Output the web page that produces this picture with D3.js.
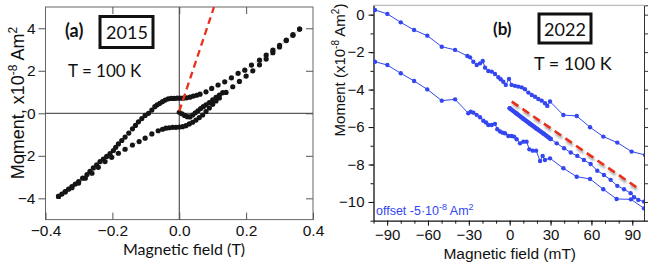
<!DOCTYPE html>
<html>
<head>
<meta charset="utf-8">
<style>
  body { margin: 0; background: #fff; }
  svg text { font-family: "Liberation Sans", Arial, sans-serif; fill: #111; }
  .note { font-family: Lato, "Open Sans", sans-serif; }
</style>
</head>
<body>
<script src="https://cdnjs.cloudflare.com/ajax/libs/d3/7.8.5/d3.min.js"></script>
<script>
// ---------- panel (a), 2015 : field in T, moment in 1e-8 Am2
var aDownH = [0.36, 0.34, 0.32, 0.30, 0.28, 0.26, 0.24, 0.216, 0.196, 0.176, 0.156, 0.136, 0.116, 0.097, 0.08, 0.062, 0.052, 0.042, 0.032, 0.022, 0.012, 0.003, -0.006, -0.015, -0.024, -0.033, -0.042, -0.05, -0.058, -0.066, -0.073, -0.082, -0.092, -0.102, -0.112, -0.122, -0.131, -0.14, -0.151, -0.162, -0.172, -0.182, -0.19, -0.197, -0.207, -0.217, -0.227, -0.237, -0.247, -0.257, -0.267, -0.276, -0.289, -0.301, -0.311, -0.321, -0.331, -0.341, -0.351, -0.361];
var aDownM = [3.96, 3.67, 3.44, 3.2, 2.97, 2.74, 2.5, 2.27, 2.03, 1.88, 1.67, 1.48, 1.33, 1.17, 1.01, 0.9, 0.85, 0.81, 0.76, 0.73, 0.71, 0.71, 0.71, 0.7, 0.7, 0.68, 0.62, 0.55, 0.47, 0.4, 0.31, 0.15, 0.0, -0.1, -0.25, -0.4, -0.57, -0.73, -0.93, -1.12, -1.28, -1.44, -1.6, -1.75, -1.9, -2.03, -2.15, -2.27, -2.42, -2.57, -2.73, -2.88, -3.05, -3.21, -3.33, -3.45, -3.57, -3.68, -3.8, -3.91];
var aUpH = [-0.361, -0.341, -0.321, -0.301, -0.281, -0.261, -0.242, -0.222, -0.202, -0.182, -0.162, -0.14, -0.12, -0.102, -0.082, -0.063, -0.05, -0.04, -0.03, -0.02, -0.01, 0.0, 0.01, 0.02, 0.03, 0.04, 0.05, 0.06, 0.07, 0.08, 0.09, 0.1, 0.11, 0.12, 0.14, 0.16, 0.18, 0.2, 0.22, 0.24, 0.26, 0.28, 0.3, 0.32, 0.34, 0.36];
var aUpM = [-3.91, -3.7, -3.5, -3.28, -3.05, -2.82, -2.54, -2.27, -2.07, -1.88, -1.69, -1.49, -1.33, -1.17, -0.97, -0.82, -0.75, -0.7, -0.68, -0.66, -0.66, -0.65, -0.63, -0.58, -0.5, -0.42, -0.32, -0.2, -0.08, 0.08, 0.25, 0.42, 0.58, 0.72, 0.98, 1.25, 1.5, 1.75, 2.0, 2.28, 2.55, 2.85, 3.12, 3.42, 3.7, 3.96];
var aVirgH = [0.0, 0.008, 0.016, 0.024, 0.032, 0.04, 0.048, 0.056, 0.064, 0.072, 0.08, 0.09, 0.1, 0.11, 0.12, 0.13];
var aVirgM = [0.05, -0.02, -0.1, -0.16, -0.17, -0.08, 0.02, 0.12, 0.22, 0.31, 0.4, 0.5, 0.63, 0.75, 0.86, 0.97];
var aFitH = [0.0, 0.104];
var aFitM = [0.1, 5.0];
var aXTicks = [-0.4, -0.2, 0.0, 0.2, 0.4];
var aYTicks = [-4, -2, 0, 2, 4];

// ---------- panel (b), 2022 : field in mT, moment in 1e-8 Am2
var bUpH = [-98.9, -89.8, -80, -70.2, -60.5, -49.9, -40.1, -31.1, -29.1, -26.7, -24.2, -21.8, -19.8, -18.1, -15.7, -13.2, -10.8, -8.3, -6.6, -4.7, -2.9, -0.5, 1.4, 3.9, 6.3, 8.8, 11.2, 13.7, 16.2, 18.6, 21, 23.5, 25.9, 27.6, 29.6, 39.4, 49.2, 59, 68.7, 79, 89.5, 99.4];
var bUpM = [0.25, 0.04, -0.41, -0.82, -1.12, -1.71, -1.88, -2.21, -2.28, -2.51, -2.69, -2.6, -2.47, -2.83, -3.01, -3.04, -3.17, -3.34, -3.45, -3.58, -3.75, -3.43, -3.75, -3.8, -3.84, -3.88, -3.98, -4.16, -4.29, -4.38, -4.5, -4.59, -4.73, -4.87, -4.64, -5.36, -5.41, -6.01, -6.51, -6.83, -7.31, -7.49];
var bLoH = [-98.9, -89.8, -80, -70.2, -60.5, -49.9, -40.1, -30.4, -28.6, -26.7, -24.3, -21.8, -19.4, -17.4, -15.7, -13.2, -10.8, -9.1, -7.1, -5.2, -3.5, -1, 1.4, 3.2, 5.1, 7.6, 10, 12.4, 14.4, 16.9, 19.4, 22.3, 24.2, 25.9, 29.6, 39.4, 49.2, 59, 68.7, 78.5, 89, 98.6];
var bLoM = [-2.51, -2.69, -3.13, -3.54, -3.99, -4.59, -4.52, -5.26, -5.18, -5.23, -5.35, -5.48, -5.66, -5.76, -5.89, -5.89, -5.83, -6.12, -6.24, -6.3, -6.33, -6.48, -6.48, -6.51, -6.65, -6.87, -6.78, -6.78, -7.19, -7.26, -7.26, -7.81, -7.54, -7.76, -7.67, -8.2, -8.65, -8.77, -9.32, -9.84, -9.86, -10.34];
// offset curve: dense part 0-30 mT, then sparse points
var bOffH = [0, 5, 10, 15, 20, 25, 30, 34.5, 39.9, 44.8, 49.6, 54.5, 59.4, 64.3, 69.2, 74.1, 79, 83.9, 88.8, 91.3, 94.4, 98.6];
var bOffM = [-5.0, -5.28, -5.56, -5.83, -6.1, -6.36, -6.63, -6.87, -7.13, -7.36, -7.54, -7.76, -7.97, -8.33, -8.56, -8.82, -9.14, -9.32, -9.53, -9.75, -9.89, -9.98];
var bThickEnd = 30;
var bFitH = [1.5, 95.2];
var bFitM = [-4.64, -9.32];
var bXTicks = [-90, -60, -30, 0, 30, 60, 90];
var bYTicks = [-10, -8, -6, -4, -2, 0];

var W = 654, H = 265;
var svg = d3.select("body").append("svg").attr("width", W).attr("height", H);
var defs = svg.append("defs");
defs.append("filter").attr("id", "blur").append("feGaussianBlur").attr("stdDeviation", 1.2);

function pts(hs, ms) { return hs.map(function (h, i) { return [h, ms[i]]; }); }

// ================= panel (a)
var xa = d3.scaleLinear().domain([-0.4, 0.4]).range([45.5, 313]);
var ya = d3.scaleLinear().domain([-5, 5]).range([219.6, 7]);
var ga = svg.append("g");
ga.append("clipPath").attr("id", "clipA").append("rect")
  .attr("x", xa(-0.4)).attr("y", ya(5)).attr("width", xa(0.4) - xa(-0.4)).attr("height", ya(-5) - ya(5));

// frame
ga.append("rect").attr("x", xa(-0.4)).attr("y", ya(5))
  .attr("width", xa(0.4) - xa(-0.4)).attr("height", ya(-5) - ya(5))
  .attr("fill", "none").attr("stroke", "#666").attr("stroke-width", 1);
// zero lines
ga.append("line").attr("x1", xa(0)).attr("x2", xa(0)).attr("y1", ya(5)).attr("y2", ya(-5)).attr("stroke", "#333");
ga.append("line").attr("x1", xa(-0.4)).attr("x2", xa(0.4)).attr("y1", ya(0)).attr("y2", ya(0)).attr("stroke", "#333");

// axes
ga.append("g").attr("transform", "translate(0," + ya(-5) + ")")
  .call(d3.axisBottom(xa).tickValues(aXTicks).tickFormat(d3.format(".1f")).tickSize(-7).tickPadding(5))
  .call(function (g) { g.select(".domain").remove(); g.selectAll("line").attr("stroke", "#555"); g.selectAll("text").attr("font-size", 15.5); });
ga.append("g").attr("transform", "translate(0," + ya(5) + ")")
  .call(d3.axisTop(xa).tickValues([-0.2, 0, 0.2]).tickSize(-7).tickFormat(""))
  .call(function (g) { g.select(".domain").remove(); g.selectAll("line").attr("stroke", "#555"); });
ga.append("g").attr("transform", "translate(" + xa(-0.4) + ",0)")
  .call(d3.axisLeft(ya).tickValues(aYTicks).tickSize(7).tickPadding(3).tickFormat(d3.format("d")))
  .call(function (g) { g.select(".domain").remove(); g.selectAll("line").attr("stroke", "#555"); g.selectAll("text").attr("font-size", 15.5); });
ga.append("g").attr("transform", "translate(" + xa(0.4) + ",0)")
  .call(d3.axisRight(ya).tickValues(aYTicks).tickSize(-7).tickFormat(""))
  .call(function (g) { g.select(".domain").remove(); g.selectAll("line").attr("stroke", "#555"); });

// data
var lineA = d3.line().x(function (d) { return xa(d[0]); }).y(function (d) { return ya(d[1]); });
var aSets = [pts(aDownH, aDownM), pts(aUpH, aUpM), pts(aVirgH, aVirgM)];
var gdA = ga.append("g").attr("clip-path", "url(#clipA)");
gdA.selectAll("path.ser").data(aSets).join("path").attr("class", "ser")
  .attr("d", lineA).attr("fill", "none").attr("stroke", "#999").attr("stroke-width", 0.7).attr("stroke-dasharray", "1.5,1.5");
gdA.selectAll("g.dots").data(aSets).join("g").attr("class", "dots")
  .selectAll("circle").data(function (d) { return d; }).join("circle")
  .attr("cx", function (d) { return xa(d[0]); }).attr("cy", function (d) { return ya(d[1]); })
  .attr("r", 2.6).attr("fill", "#151515");
gdA.append("path").datum(pts(aFitH, aFitM)).attr("d", lineA)
  .attr("fill", "none").attr("stroke", "#e8301c").attr("stroke-width", 2.3).attr("stroke-dasharray", "7,4.5");

// labels
ga.append("text").attr("x", 65).attr("y", 37).attr("font-weight", "bold").attr("font-size", 18).attr("class", "note").text("(a)");
ga.append("rect").attr("x", 100).attr("y", 16.5).attr("width", 53).attr("height", 31)
  .attr("fill", "#fff").attr("stroke", "#111").attr("stroke-width", 3);
ga.append("text").attr("x", 127).attr("y", 39).attr("text-anchor", "middle").attr("font-size", 18).attr("class", "note").text("2015");
ga.append("text").attr("x", 68).attr("y", 77).attr("font-size", 17).attr("class", "note").text("T = 100 K");
ga.append("text").attr("x", 184).attr("y", 255).attr("text-anchor", "middle").attr("font-size", 16).attr("class", "note").text("Magnetic field (T)");
var yla = ga.append("text").attr("transform", "translate(24,103) rotate(-90)").attr("text-anchor", "middle").attr("font-size", 18);
yla.append("tspan").text("Moment, x10");
yla.append("tspan").attr("dy", -7).attr("font-size", 12).text("-8");
yla.append("tspan").attr("dy", 7).text(" Am");
yla.append("tspan").attr("dy", -7).attr("font-size", 12).text("2");

// ================= panel (b)
var xb = d3.scaleLinear().domain([-100, 98.6]).range([373.5, 644]);
var yb = d3.scaleLinear().domain([-11, 0.5]).range([220.7, 5.3]);
var gb = svg.append("g");
gb.append("clipPath").attr("id", "clipB").append("rect")
  .attr("x", xb(-100)).attr("y", yb(0.5)).attr("width", xb(98.6) - xb(-100)).attr("height", yb(-11) - yb(0.5));

// frame: top and right thin grey
gb.append("line").attr("x1", xb(-100)).attr("x2", xb(98.6)).attr("y1", yb(0.5)).attr("y2", yb(0.5)).attr("stroke", "#aaa");
gb.append("g").attr("transform", "translate(" + xb(98.6) + ",0)")
  .call(d3.axisRight(yb).tickValues(d3.range(-11, 1, 1)).tickSize(4).tickFormat(""))
  .call(function (g) { g.select(".domain").attr("stroke", "#333"); g.selectAll("line").attr("stroke", "#333"); });

var minorX = d3.range(-100, 100, 10);
var minorY = d3.range(-11, 1, 1);
gb.append("g").attr("transform", "translate(0," + yb(-11) + ")")
  .call(d3.axisBottom(xb).tickValues(minorX).tickSize(3).tickFormat(""))
  .call(function (g) { g.select(".domain").remove(); g.selectAll("line").attr("stroke", "#111"); });
gb.append("g").attr("transform", "translate(0," + yb(-11) + ")")
  .call(d3.axisBottom(xb).tickValues(bXTicks).tickSize(5).tickPadding(4).tickSizeOuter(0))
  .call(function (g) { g.select(".domain").attr("stroke", "#111").attr("stroke-width", 1.3); g.selectAll("line").attr("stroke", "#111"); g.selectAll("text").attr("font-size", 15); });
gb.append("g").attr("transform", "translate(" + xb(-100) + ",0)")
  .call(d3.axisLeft(yb).tickValues(minorY).tickSize(3).tickFormat(""))
  .call(function (g) { g.select(".domain").remove(); g.selectAll("line").attr("stroke", "#111"); });
gb.append("g").attr("transform", "translate(" + xb(-100) + ",0)")
  .call(d3.axisLeft(yb).tickValues(bYTicks).tickSize(5).tickPadding(4).tickSizeOuter(0))
  .call(function (g) { g.select(".domain").attr("stroke", "#111").attr("stroke-width", 1.3); g.selectAll("line").attr("stroke", "#111"); g.selectAll("text").attr("font-size", 15); });

var lineB = d3.line().x(function (d) { return xb(d[0]); }).y(function (d) { return yb(d[1]); });
var blue = "#3446f0";
var bSets = [pts(bUpH, bUpM), pts(bLoH, bLoM), pts(bOffH, bOffM)];
var gdB = gb.append("g").attr("clip-path", "url(#clipB)");
gdB.selectAll("path.ser").data(bSets).join("path").attr("class", "ser")
  .attr("d", lineB).attr("fill", "none").attr("stroke", blue).attr("stroke-width", 1);
// dense offset segment drawn thick
gdB.append("path").datum(pts(bOffH, bOffM).filter(function (d) { return d[0] <= bThickEnd; }))
  .attr("d", lineB).attr("fill", "none").attr("stroke", blue).attr("stroke-width", 4.5).attr("stroke-linecap", "round");
gdB.selectAll("g.dots").data(bSets).join("g").attr("class", "dots")
  .selectAll("circle").data(function (d) { return d; }).join("circle")
  .attr("cx", function (d) { return xb(d[0]); }).attr("cy", function (d) { return yb(d[1]); })
  .attr("r", 2.2).attr("fill", blue);
// red fit with soft shadow
gdB.append("path").datum(pts(bFitH, bFitM)).attr("d", lineB).attr("transform", "translate(1,2.5)")
  .attr("fill", "none").attr("stroke", "#999").attr("stroke-width", 3).attr("stroke-dasharray", "8,5")
  .attr("filter", "url(#blur)").attr("opacity", 0.8);
gdB.append("path").datum(pts(bFitH, bFitM)).attr("d", lineB)
  .attr("fill", "none").attr("stroke", "#e8301c").attr("stroke-width", 2.6).attr("stroke-dasharray", "8,5");

// labels
gb.append("text").attr("x", 493).attr("y", 35).attr("font-weight", "bold").attr("font-size", 17).attr("class", "note").text("(b)");
gb.append("rect").attr("x", 539).attr("y", 14).attr("width", 52).attr("height", 29)
  .attr("fill", "#fff").attr("stroke", "#111").attr("stroke-width", 3);
gb.append("text").attr("x", 565).attr("y", 35.5).attr("text-anchor", "middle").attr("font-size", 18).attr("class", "note").text("2022");
gb.append("text").attr("x", 534).attr("y", 70).attr("font-size", 18).attr("class", "note").text("T = 100 K");
var off = gb.append("text").attr("x", 376).attr("y", 215).attr("font-size", 12.5).style("fill", blue);
off.append("tspan").text("offset -5\u00b710");
off.append("tspan").attr("dy", -5).attr("font-size", 9).text("-8");
off.append("tspan").attr("dy", 5).text(" Am");
off.append("tspan").attr("dy", -5).attr("font-size", 9).text("2");
gb.append("text").attr("x", xb(0)).attr("y", 259).attr("text-anchor", "middle").attr("font-size", 15.5).text("Magnetic field (mT)");
var ylb = gb.append("text").attr("transform", "translate(345,70) rotate(-90)").attr("text-anchor", "middle").attr("font-size", 15);
ylb.append("tspan").text("Moment (x10");
ylb.append("tspan").attr("dy", -6).attr("font-size", 10).text("-8");
ylb.append("tspan").attr("dy", 6).text(" Am");
ylb.append("tspan").attr("dy", -6).attr("font-size", 10).text("2");
ylb.append("tspan").attr("dy", 6).text(")");
</script>
</body>
</html>
